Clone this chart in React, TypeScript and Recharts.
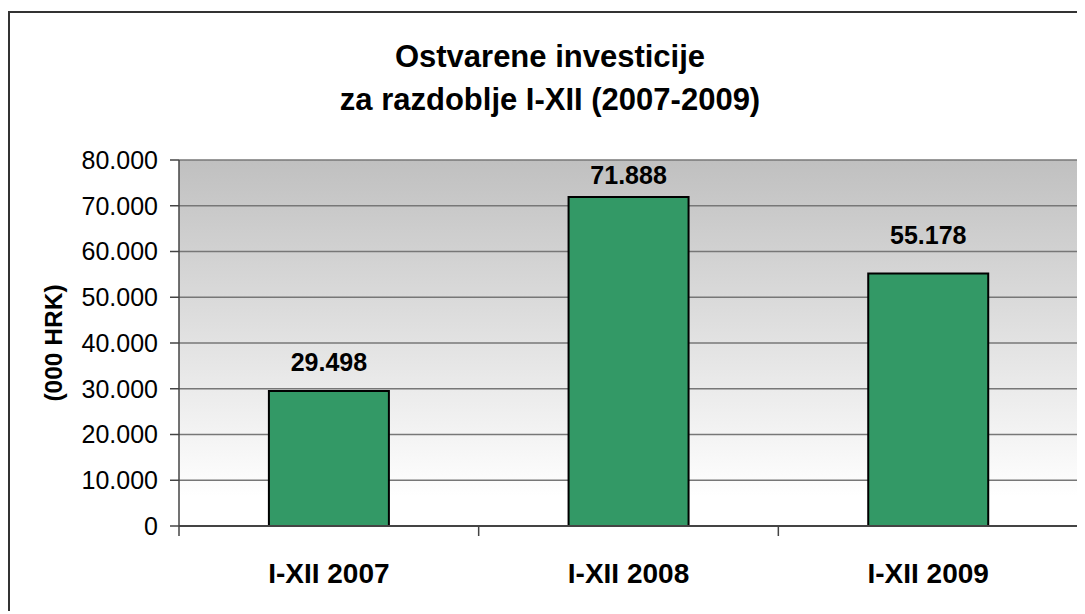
import React from 'react';
import { BarChart, Bar, XAxis, YAxis, CartesianGrid, LabelList } from 'recharts';

const categories = ['I-XII 2007', 'I-XII 2008', 'I-XII 2009'];
const investments = [29498, 71888, 55178];
const yTicks = [0, 10000, 20000, 30000, 40000, 50000, 60000, 70000, 80000];

const data = categories.map((name, i) => ({ name, value: investments[i] }));

const FONT = '"Liberation Sans", Arial, sans-serif';
// label lift above each bar top (Excel placed them a bit unevenly)
const labelLift = [20, 13, 30];

const fmt = (v: number) => String(v).replace(/\B(?=(\d{3})+(?!\d))/g, '.');

function CategoryTick(props: any) {
  const { x, y, payload, index } = props;
  const half = payload && payload.offset ? payload.offset : 0;
  return (
    <g>
      {index === 0 && <line x1={x - half} x2={x - half} y1={y} y2={y + 10} stroke="#444" strokeWidth={1.5} />}
      <line x1={x + half} x2={x + half} y1={y} y2={y + 10} stroke="#444" strokeWidth={1.5} />
      <text x={x} y={y + 57} textAnchor="middle" fontFamily={FONT} fontWeight="bold" fontSize={28} fill="#000">
        {payload.value}
      </text>
    </g>
  );
}

function ValueLabel(props: any) {
  const { x, y, width, value, index } = props;
  return (
    <text x={x + width / 2} y={y - labelLift[index]} textAnchor="middle" fontFamily={FONT} fontWeight="bold" fontSize={25} fill="#000">
      {fmt(value)}
    </text>
  );
}

function AxisTitle(props: any) {
  const vb = props.viewBox;
  const cx = 46;
  const cy = vb.y + vb.height / 2;
  return (
    <text x={cx} y={cy} dy={8} transform={`rotate(-90 ${cx} ${cy})`} textAnchor="middle" fontFamily={FONT} fontWeight="bold" fontSize={24.5} fill="#000">
      (000 HRK)
    </text>
  );
}

export default function App() {
  return (
    <div style={{ position: 'relative', width: 1077, height: 603, overflow: 'hidden', background: '#fff' }}>
      <div style={{ position: 'absolute', top: 3, left: 0, width: 1200, height: 700, borderTop: '2px solid #333', borderLeft: '2px solid #333' }} />
      <div style={{ position: 'absolute', top: 27, left: 0, width: 1084, textAlign: 'center', fontFamily: FONT, fontWeight: 'bold', fontSize: 31, lineHeight: '43px', color: '#000' }}>
        Ostvarene investicije
        <br />
        za razdoblje I-XII (2007-2009)
      </div>
      <div style={{ position: 'absolute', top: 0, left: 0 }}>
        <BarChart width={1077} height={603} data={data} margin={{ top: 152, right: 7, left: 0, bottom: 0 }} barCategoryGap="30%">
          <defs>
            <linearGradient id="plotBg" x1="0" y1="0" x2="0" y2="1">
              <stop offset="0%" stopColor="#c0c0c0" />
              <stop offset="92%" stopColor="#ffffff" />
              <stop offset="100%" stopColor="#ffffff" />
            </linearGradient>
          </defs>
          <CartesianGrid vertical={false} stroke="#777" strokeWidth={1.5} fill="url(#plotBg)" fillOpacity={1} />
          <XAxis
            dataKey="name"
            height={85}
            tickSize={0}
            tickMargin={0}
            tickLine={false}
            axisLine={{ stroke: '#444', strokeWidth: 2 }}
            tick={<CategoryTick />}
            interval={0}
          />
          <YAxis
            width={171}
            domain={[0, 80000]}
            ticks={yTicks}
            interval={0}
            tickFormatter={fmt}
            tickSize={9}
            tickMargin={12}
            axisLine={{ stroke: '#444', strokeWidth: 1.5 }}
            tickLine={{ stroke: '#444', strokeWidth: 1.5 }}
            tick={{ fill: '#000', fontSize: 25, fontFamily: FONT }}
            label={{ content: <AxisTitle /> }}
          />
          <YAxis yAxisId="right" orientation="right" width={0} domain={[0, 80000]} tick={false} tickLine={false} axisLine={{ stroke: '#888', strokeWidth: 2 }} />
          <Bar dataKey="value" fill="#339966" stroke="#000" strokeWidth={2} isAnimationActive={false}>
            <LabelList dataKey="value" content={<ValueLabel />} />
          </Bar>
        </BarChart>
      </div>
    </div>
  );
}
